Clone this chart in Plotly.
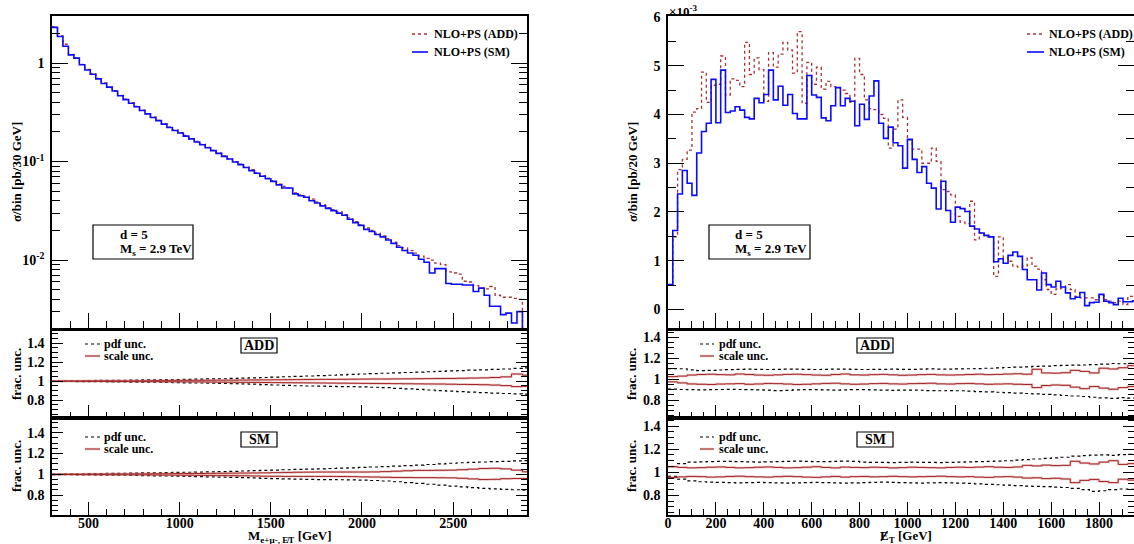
import numpy as np
import plotly.graph_objects as go

W, H = 1134, 544
FONT = "Liberation Serif"

# ---------------- data ----------------
# left: invariant mass, 30 GeV bins from 300 GeV  (pb / bin)
mass_edges = np.arange(300, 2911, 30)
sm_mass = [2.30, 1.86, 1.48, 1.21, 1.12, 0.96, 0.85, 0.77, 0.69, 0.62,
           0.57, 0.52, 0.465, 0.425, 0.39, 0.36, 0.33, 0.305, 0.28, 0.26,
           0.24, 0.222, 0.207, 0.195, 0.181, 0.170, 0.158, 0.148, 0.138, 0.129,
           0.121, 0.113, 0.106, 0.099, 0.093, 0.087, 0.081, 0.076, 0.071, 0.067,
           0.063, 0.058, 0.054, 0.054, 0.047, 0.045, 0.0435, 0.040, 0.038, 0.0355,
           0.0335, 0.0318, 0.030, 0.0285, 0.026, 0.024, 0.0225, 0.0205, 0.0195, 0.0182,
           0.0172, 0.016, 0.0148, 0.0135, 0.0125, 0.0118, 0.0112, 0.0102, 0.0095, 0.0074,
           0.0082, 0.0082, 0.0058, 0.0057, 0.0057, 0.0056, 0.0056, 0.0048, 0.0052, 0.0044,
           0.0034, 0.0034, 0.0028, 0.0029, 0.0023, 0.0030, 0.0010]
add_mass = [2.32, 1.88, 1.55, 1.22, 1.13, 0.97, 0.86, 0.78, 0.70, 0.63,
            0.57, 0.52, 0.47, 0.43, 0.395, 0.362, 0.333, 0.306, 0.283, 0.262,
            0.242, 0.224, 0.209, 0.196, 0.184, 0.171, 0.160, 0.150, 0.139, 0.130,
            0.122, 0.114, 0.107, 0.100, 0.094, 0.088, 0.083, 0.077, 0.072, 0.068,
            0.064, 0.059, 0.056, 0.054, 0.048, 0.046, 0.0445, 0.0415, 0.039, 0.0365,
            0.034, 0.0325, 0.031, 0.029, 0.0268, 0.0245, 0.0228, 0.0212, 0.0200, 0.0188,
            0.0176, 0.0165, 0.0152, 0.0140, 0.0133, 0.0125, 0.0118, 0.0110, 0.0104, 0.0100,
            0.0093, 0.0090, 0.0076, 0.0074, 0.0072, 0.0061, 0.0060, 0.0055, 0.0052, 0.0051,
            0.0054, 0.0044, 0.0042, 0.0042, 0.0041, 0.0040, 0.0010]

# left ratio panels: 60 GeV bins, deviation from 1 in per mille
mass_r_edges = np.arange(300, 2941, 60)
add_mass_pdf_up = [3, 4, 5, 6, 7, 8, 9, 10, 12, 13, 15, 17, 19, 21, 23, 25, 28, 31, 34, 38,
                   42, 46, 50, 54, 58, 62, 66, 70, 75, 79, 83, 87, 91, 95, 99, 103, 107, 111, 115, 119,
                   123, 128, 134, 140]
add_mass_pdf_dn = [-3, -4, -5, -6, -7, -8, -9, -10, -11, -12, -14, -16, -18, -20, -22, -24, -27, -30, -33, -37,
                   -41, -45, -49, -52, -54, -56, -58, -59, -61, -65, -70, -76, -82, -88, -94, -100, -106, -112, -117, -122,
                   -127, -131, -135, -138]
add_mass_sc_up = [1, 2, 2, 3, 3, 4, 4, 5, 5, 6, 6, 7, 8, 8, 9, 10, 10, 11, 12, 13,
                  14, 15, 16, 17, 18, 18, 19, 20, 21, 22, 22, 23, 24, 25, 26, 27, 28, 30, 32, 34,
                  38, 45, 75, 62]
add_mass_sc_dn = [-1, -2, -2, -3, -3, -4, -4, -5, -5, -6, -7, -7, -8, -9, -10, -11, -12, -13, -14, -15,
                  -16, -17, -18, -19, -20, -21, -22, -23, -24, -25, -26, -27, -28, -29, -30, -31, -33, -35, -36, -38,
                  -42, -48, -58, -55]
sm_mass_pdf_up = [3, 4, 5, 6, 7, 9, 10, 11, 13, 14, 16, 18, 20, 22, 24, 26, 29, 32, 35, 38,
                  41, 44, 47, 50, 53, 56, 59, 62, 66, 70, 74, 79, 84, 89, 94, 100, 106, 111, 115, 118,
                  121, 124, 128, 132]
sm_mass_pdf_dn = [-3, -4, -5, -6, -7, -8, -9, -11, -12, -14, -16, -18, -20, -22, -24, -26, -29, -32, -35, -38,
                  -41, -44, -47, -49, -50, -51, -52, -53, -55, -59, -64, -71, -79, -87, -95, -104, -113, -121, -128, -134,
                  -139, -144, -148, -152]
sm_mass_sc_up = [1, 2, 2, 3, 3, 4, 4, 5, 5, 6, 6, 7, 8, 8, 9, 10, 11, 12, 13, 14,
                 16, 18, 20, 21, 22, 22, 22, 22, 22, 23, 26, 30, 34, 38, 38, 39, 40, 44, 50, 56,
                 58, 52, 40, 24]
sm_mass_sc_dn = [-1, -2, -2, -3, -3, -4, -4, -5, -5, -6, -7, -8, -9, -10, -11, -12, -13, -14, -16, -18,
                 -19, -20, -20, -20, -20, -20, -21, -22, -24, -26, -28, -30, -31, -32, -32, -33, -34, -38, -44, -50,
                 -48, -42, -40, -40]

# right: missing ET, 20 GeV bins from 0 (units of 1e-3 pb / bin)
met_edges = np.arange(0, 1961, 20)
sm_met = [0.51, 1.62, 2.37, 2.85, 2.59, 2.34, 3.21, 3.65, 3.82, 4.72,
          3.83, 4.91, 4.04, 4.07, 4.16, 4.09, 3.94, 3.91, 4.33, 4.24,
          4.41, 4.91, 4.30, 4.58, 4.19, 4.41, 4.02, 3.91, 3.91, 4.80,
          4.40, 4.35, 3.93, 3.87, 4.18, 4.55, 4.18, 4.33, 4.27, 3.77,
          4.21, 3.90, 4.38, 4.69, 3.82, 3.51, 3.74, 3.42, 3.36, 2.90,
          3.49, 3.08, 2.81, 2.93, 2.59, 2.49, 2.06, 2.63, 2.03, 1.79,
          2.10, 2.07, 2.01, 1.71, 1.65, 1.57, 1.52, 1.49, 0.98, 1.04,
          0.95, 1.11, 1.18, 1.09, 0.82, 0.61, 0.61, 0.40, 0.75, 0.51,
          0.46, 0.58, 0.46, 0.34, 0.22, 0.25, 0.35, 0.08, 0.14, 0.15,
          0.31, 0.17, 0.14, 0.10, 0.23, 0.16, 0.16, 0.18]
add_met = [0.50, 1.49, 2.87, 3.08, 3.27, 4.05, 4.12, 4.87, 4.25, 4.60,
           4.62, 5.20, 4.40, 4.73, 4.70, 4.57, 5.48, 4.82, 5.16, 4.92,
           4.27, 5.27, 4.97, 5.24, 5.48, 5.32, 4.85, 5.70, 4.23, 5.07,
           4.62, 4.97, 4.52, 4.68, 4.57, 4.55, 4.50, 4.43, 4.25, 5.15,
           4.82, 4.30, 4.12, 4.10, 4.00, 3.92, 3.31, 3.70, 4.30, 3.94,
           3.48, 3.29, 3.29, 3.00, 3.00, 3.31, 3.04, 2.46, 2.42, 2.35,
           1.91, 1.79, 1.76, 2.22, 1.43, 1.57, 1.49, 1.49, 0.68, 1.49,
           1.06, 0.99, 0.89, 0.87, 0.89, 1.06, 0.89, 0.83, 0.61, 0.41,
           0.31, 0.42, 0.44, 0.51, 0.41, 0.27, 0.24, 0.24, 0.24, 0.20,
           0.29, 0.20, 0.17, 0.14, 0.17, 0.10, 0.27, 0.24]

# right ratio panels: 40 GeV bins, deviation from 1 in per mille
met_r_edges = np.arange(0, 1961, 40)
add_met_pdf_up = [102, 100, 90, 82, 84, 88, 92, 95, 96, 94, 93, 95, 97, 96, 94, 93, 95, 97, 96, 94,
                  93, 94, 95, 96, 95, 94, 96, 98, 97, 96, 98, 100, 102, 105, 108, 112, 115, 118, 122, 126,
                  130, 132, 134, 136, 140, 145, 150, 148, 152]
add_met_pdf_dn = [-95, -98, -100, -102, -100, -98, -97, -98, -100, -102, -104, -108, -106, -102, -100, -100, -102, -104, -102, -100,
                  -100, -102, -104, -106, -104, -103, -105, -108, -110, -108, -110, -114, -118, -120, -124, -128, -132, -136, -140, -145,
                  -150, -155, -160, -165, -172, -178, -182, -176, -180]
add_met_sc_up = [25, 30, 40, 45, 48, 44, 42, 50, 45, 40, 38, 42, 46, 48, 44, 40, 38, 45, 50, 42,
                 40, 44, 46, 42, 38, 40, 44, 46, 42, 40, 42, 45, 48, 44, 46, 50, 52, 48, 95, 60,
                 58, 62, 85, 75, 60, 105, 98, 110, 130]
add_met_sc_dn = [-25, -35, -45, -48, -50, -46, -44, -42, -48, -45, -40, -42, -46, -50, -48, -44, -40, -38, -44, -48,
                 -46, -42, -40, -44, -46, -42, -40, -38, -44, -46, -42, -40, -44, -48, -46, -44, -48, -50, -80, -60,
                 -55, -58, -75, -90, -70, -85, -95, -80, -70]
sm_met_pdf_up = [50, 75, 88, 90, 92, 94, 95, 92, 90, 88, 90, 92, 95, 96, 94, 92, 93, 95, 96, 94,
                 88, 86, 85, 84, 86, 88, 86, 85, 84, 86, 88, 90, 92, 94, 96, 100, 105, 110, 115, 120,
                 125, 130, 140, 145, 148, 150, 146, 152, 155]
sm_met_pdf_dn = [-35, -60, -75, -82, -85, -88, -90, -92, -90, -88, -90, -92, -94, -92, -90, -88, -90, -92, -94, -92,
                 -90, -88, -86, -88, -90, -92, -94, -92, -90, -92, -94, -96, -100, -104, -108, -112, -116, -120, -122, -125,
                 -128, -132, -140, -150, -165, -160, -150, -145, -148]
sm_met_sc_up = [48, 42, 38, 40, 44, 46, 42, 38, 40, 44, 46, 42, 38, 40, 44, 48, 42, 38, 45, 42,
                40, 44, 42, 38, 40, 44, 42, 40, 38, 42, 44, 42, 45, 48, 44, 42, 46, 60, 55, 62,
                58, 60, 95, 80, 72, 88, 100, 68, 75]
sm_met_sc_dn = [-45, -40, -36, -38, -42, -40, -36, -34, -38, -40, -42, -38, -35, -38, -42, -44, -40, -36, -42, -38,
                -36, -40, -38, -35, -38, -40, -38, -36, -34, -38, -40, -38, -42, -44, -40, -38, -42, -50, -48, -55,
                -52, -58, -90, -70, -62, -80, -90, -60, -68]

# ---------------- helpers ----------------
def px(x):
    return x / W

def py(y):
    return 1 - y / H

def step(edges, vals):
    return list(edges), list(vals) + [vals[-1]]

def ratio_vals(devs):
    return [1 + d / 1000.0 for d in devs]

RED = "#a83232"
BLUE = "#0a0aff"
SCALE_RED = "#a02424"
SCALE_HALO = "rgba(215,130,130,0.45)"

fig = go.Figure()

def add_hist(edges, vals, xa, ya, color, dash, width):
    x, y = step(edges, vals)
    fig.add_trace(go.Scatter(x=x, y=y, mode="lines", line=dict(shape="hv", color=color, dash=dash, width=width),
                             xaxis=xa, yaxis=ya, showlegend=False, hoverinfo="skip"))

def add_ratio(edges, pdf_up, pdf_dn, sc_up, sc_dn, xa, ya):
    for d in (pdf_up, pdf_dn):
        add_hist(edges, ratio_vals(d), xa, ya, "black", "3px,3px", 1.2)
    for d in (sc_up, sc_dn):
        add_hist(edges, ratio_vals(d), xa, ya, SCALE_HALO, "solid", 2.4)
        add_hist(edges, ratio_vals(d), xa, ya, SCALE_RED, "solid", 1.0)

# left main
add_hist(mass_edges, add_mass, "x", "y", RED, "3px,3px", 1.3)
add_hist(mass_edges, sm_mass, "x", "y", BLUE, "solid", 1.6)
# left ratios
add_ratio(mass_r_edges, add_mass_pdf_up, add_mass_pdf_dn, add_mass_sc_up, add_mass_sc_dn, "x2", "y2")
add_ratio(mass_r_edges, sm_mass_pdf_up, sm_mass_pdf_dn, sm_mass_sc_up, sm_mass_sc_dn, "x3", "y3")
# right main
add_hist(met_edges, add_met, "x4", "y4", RED, "3px,3px", 1.3)
add_hist(met_edges, sm_met, "x4", "y4", BLUE, "solid", 1.6)
# right ratios
add_ratio(met_r_edges, add_met_pdf_up, add_met_pdf_dn, add_met_sc_up, add_met_sc_dn, "x5", "y5")
add_ratio(met_r_edges, sm_met_pdf_up, sm_met_pdf_dn, sm_met_sc_up, sm_met_sc_dn, "x6", "y6")

# ---------------- axes ----------------
TICKFONT = dict(family=FONT, size=14, color="black", weight="bold")
LX = [px(52), px(527)]
RX = [px(668), 1.0]
MAIN_Y = [py(329), py(16)]
R1_Y = [py(418), py(330)]
R2_Y = [py(515), py(418)]

def xax(domain, rng, anchor, major, minor, ticklen, labels, matches=None):
    d = dict(domain=domain, range=rng, anchor=anchor, showgrid=False, zeroline=False,
             showline=True, linecolor="black", linewidth=1.6, mirror=True,
             ticks="inside", ticklen=ticklen, tickwidth=1.2, tickcolor="black",
             tick0=0, dtick=major, showticklabels=labels, tickfont=TICKFONT, ticklabelstandoff=-6,
             minor=dict(ticks="inside", ticklen=ticklen // 2, tickwidth=1.2, tickcolor="black",
                        tick0=0, dtick=minor, showgrid=False),
             automargin=False, fixedrange=True)
    if matches:
        d["matches"] = matches
    return d

def ratio_yax(domain, rng, anchor):
    return dict(domain=domain, range=rng, anchor=anchor, showgrid=False, zeroline=False,
                showline=True, linecolor="black", linewidth=1.6, mirror="ticks",
                ticks="inside", ticklen=11, tickwidth=1.2, tickcolor="black",
                tickmode="array", tickvals=[0.8, 1.0, 1.2, 1.4], ticktext=["0.8", "1", "1.2", "1.4"],
                tickfont=TICKFONT, ticklabelstandoff=3,
                minor=dict(ticks="inside", ticklen=6, tickwidth=1.2, tickcolor="black",
                           tick0=0, dtick=0.05, showgrid=False),
                automargin=False, fixedrange=True)

log_minor = [m * 10.0 ** e for e in (-3, -2, -1, 0) for m in range(2, 10)]

fig.update_layout(
    width=W, height=H, margin=dict(l=0, r=0, t=0, b=0),
    paper_bgcolor="white", plot_bgcolor="white", showlegend=False,
    font=dict(family=FONT, color="black", size=14),
    xaxis=xax(LX, [300, 2905], "y", 500, 100, 16, False),
    xaxis2=xax(LX, [300, 2905], "y2", 500, 100, 13, False, "x"),
    xaxis3=xax(LX, [300, 2905], "y3", 500, 100, 13, True, "x"),
    xaxis4=xax(RX, [0, 1946], "y4", 200, 50, 16, False),
    xaxis5=xax(RX, [0, 1946], "y5", 200, 50, 13, False, "x4"),
    xaxis6=xax(RX, [0, 1946], "y6", 200, 50, 13, True, "x4"),
    yaxis=dict(domain=MAIN_Y, type="log", range=[np.log10(0.002), np.log10(3.0)], anchor="x",
               showgrid=False, zeroline=False, showline=True, linecolor="black", linewidth=1.6,
               mirror="ticks", ticks="inside", ticklen=16, tickwidth=1.2, tickcolor="black",
               tickmode="array", tickvals=[0.01, 0.1, 1], ticktext=["10<sup>-2</sup>", "10<sup>-1</sup>", "1"],
               tickfont=TICKFONT, ticklabelstandoff=3,
               minor=dict(ticks="inside", ticklen=8, tickwidth=1.2, tickcolor="black",
                          tickmode="array", tickvals=log_minor, showgrid=False),
               automargin=False, fixedrange=True),
    yaxis2=ratio_yax(R1_Y, [0.61, 1.54], "x2"),
    yaxis3=ratio_yax(R2_Y, [0.61, 1.54], "x3"),
    yaxis4=dict(domain=MAIN_Y, range=[-0.4, 6.02], anchor="x4",
                showgrid=False, zeroline=False, showline=True, linecolor="black", linewidth=1.6,
                mirror="ticks", ticks="inside", ticklen=16, tickwidth=1.2, tickcolor="black",
                tick0=0, dtick=1, tickfont=TICKFONT, ticklabelstandoff=3,
                minor=dict(ticks="inside", ticklen=8, tickwidth=1.2, tickcolor="black",
                           tick0=0, dtick=0.5, showgrid=False),
                automargin=False, fixedrange=True),
    yaxis5=ratio_yax(R1_Y, [0.63, 1.47], "x5"),
    yaxis6=ratio_yax(R2_Y, [0.63, 1.47], "x6"),
)

# ---------------- annotations / legends ----------------
anns = []
def ann(x, y, text, size, xanchor="center", yanchor="middle", angle=0):
    anns.append(dict(x=px(x), y=py(y), xref="paper", yref="paper", text=text, showarrow=False,
                     xanchor=xanchor, yanchor=yanchor, textangle=angle,
                     font=dict(family=FONT, size=size, color="black", weight="bold")))

shapes = []
def hline(x0, x1, y, color, dash, width):
    shapes.append(dict(type="line", xref="paper", yref="paper", x0=px(x0), x1=px(x1), y0=py(y), y1=py(y),
                       line=dict(color=color, dash=dash, width=width)))

def box(x0, y0, x1, y1):
    shapes.append(dict(type="rect", xref="paper", yref="paper", x0=px(x0), x1=px(x1), y0=py(y1), y1=py(y0),
                       line=dict(color="black", width=1.2), fillcolor="white", layer="above"))

# axis titles
ann(16, 172, "σ/bin [pb/30 GeV]", 13, angle=-90)
ann(632, 172, "σ/bin [pb/20 GeV]", 13, angle=-90)
for xx in (16, 631):
    ann(xx, 374, "frac. unc.", 13, angle=-90)
    ann(xx, 466, "frac. unc.", 13, angle=-90)
ann(290, 536, "M<sub>e+μ-, E̸T</sub> [GeV]", 13)
ann(906, 536, "E<sub>T</sub> [GeV]", 13)
# slash through the E of missing E_T
shapes.append(dict(type="line", xref="paper", yref="paper", x0=px(881), x1=px(887.5), y0=py(541), y1=py(531),
                   line=dict(color="black", width=1.3)))
ann(667, 11, "×10<sup>-3</sup>", 13, xanchor="left")

# main legends
for (lx0, lx1, tx) in ((412, 428, 432), (1027, 1044, 1047)):
    hline(lx0, lx1, 34, RED, "3px,3px", 1.3)
    hline(lx0, lx1, 52, BLUE, "solid", 1.6)
    ann(tx, 34, "NLO+PS (ADD)", 12, xanchor="left")
    ann(tx, 52, "NLO+PS (SM)", 12, xanchor="left")

# ratio legends
for (lx0, lx1, tx) in ((85, 100, 102), (700, 714, 717)):
    for (ya, yb) in ((344, 356), (437, 449)):
        hline(lx0, lx1, ya, "black", "3px,3px", 1.2)
        hline(lx0, lx1, yb, SCALE_HALO, "solid", 2.4)
        hline(lx0, lx1, yb, SCALE_RED, "solid", 1.0)
        ann(tx, ya, "pdf unc.", 12, xanchor="left")
        ann(tx, yb, "scale unc.", 12, xanchor="left")

# ADD / SM boxes
for (bx0, bx1) in ((241, 277), (857, 893)):
    box(bx0, 338, bx1, 353)
    ann((bx0 + bx1) / 2, 345.5, "ADD", 14)
    box(bx0, 432, bx1, 447)
    ann((bx0 + bx1) / 2, 439.5, "SM", 14)

# parameter boxes
for (bx0, bx1, tx) in ((93, 193, 118), (709, 810, 733)):
    box(bx0, 225, bx1, 259)
    ann(tx, 234, "d = 5", 13, xanchor="left")
    ann(tx, 250, "M<sub>s</sub> = 2.9 TeV", 13, xanchor="left")

fig.update_layout(annotations=anns, shapes=shapes)
fig.write_html("out.html", config={"displayModeBar": False},
               post_script="document.body.style.margin='0px';document.body.style.overflow='hidden';"
                           "document.documentElement.style.overflow='hidden';")
